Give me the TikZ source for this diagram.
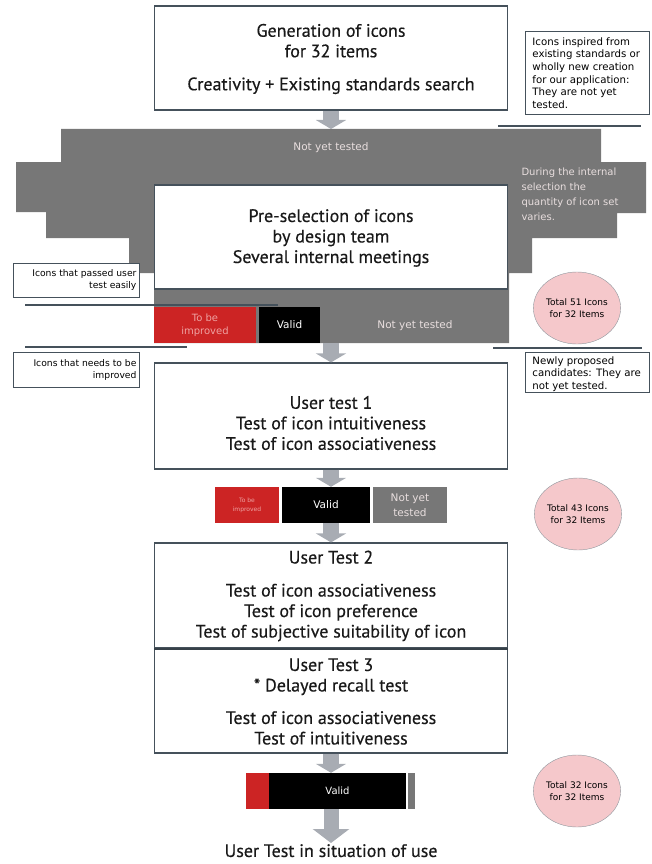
\documentclass[tikz,border=0pt]{standalone}
\usepackage{fontspec}
\setmainfont{PT Sans}
\newfontfamily\stagefont[FakeBold=0.4]{PT Sans}
\newfontfamily\notefont{DejaVu Sans}
\usetikzlibrary{arrows.meta,shapes.geometric}
\definecolor{tabgray}{HTML}{777777}
\definecolor{tabred}{HTML}{CC2424}
\definecolor{arrowgray}{HTML}{A8ACB3}
\definecolor{edgegray}{HTML}{45515B}
\definecolor{pinkfill}{HTML}{F5C8CB}
\definecolor{palered}{HTML}{EEA2A2}
\definecolor{paletext}{HTML}{E8DEDE}
\newcommand{\fsize}[2]{\fontsize{#1}{#2}\selectfont}

\begin{document}
\begin{tikzpicture}
  [x=1pt,y=-1pt,
   stagebox/.style={draw=edgegray,line width=1.2pt,fill=white,minimum width=353pt,inner sep=0pt},
   stagetext/.style={align=center,text=black!90,font=\stagefont\fsize{18}{20.5}},
   notebox/.style={draw=edgegray,line width=0.9pt,fill=white,inner xsep=7pt,inner ysep=2.5pt,anchor=north west,font=\notefont\fsize{10.2}{12.6}},
   leftnote/.style={notebox,inner xsep=3pt,font=\notefont\fsize{9.2}{12}},
   barcell/.style={minimum height=36pt,inner sep=0pt,align=center,font=\notefont\fsize{10.5}{15}},
   total/.style={ellipse,draw=edgegray!60,fill=pinkfill,minimum width=70pt,minimum height=72pt,inner sep=0pt,align=center,font=\notefont\fsize{9}{12.5}},
   fat/.style={draw=arrowgray,line width=16pt,-{Triangle[width=30pt,length=9pt]}},
   divline/.style={draw=edgegray,line width=1.2pt}]
  \useasboundingbox (0,0) rectangle (651,864);

  % selection area, quantity of icons varies
  \fill[tabgray] (61,129) -- (601,129) -- (601,162) -- (646,162) -- (646,213)
    -- (617,213) -- (617,238) -- (532,238) -- (532,273) -- (509,273) -- (509,343)
    -- (154,343) -- (154,273) -- (129,273) -- (129,238) -- (46,238) -- (46,212)
    -- (16,212) -- (16,162) -- (61,162) -- cycle;
  \coordinate (g1) at (331,129);
  \coordinate (g2) at (331,343);

  \node[stagebox,minimum height=104pt] (t1) at (331,58) {};
  \node[stagetext] (t1x) at (331,59) {Generation of icons\\for 32 items\\[12.5pt]Creativity + Existing standards search};

  \node[text=paletext,font=\notefont\fsize{10.5}{13}] (n0) at (331,148) {Not yet tested};
  \node[anchor=north west,align=left,text=paletext,font=\notefont\fsize{10}{15.2}] (n0r) at (518,164)
    {During the internal\\selection the\\quantity of icon set\\varies.};

  \node[stagebox,minimum height=104pt] (t2) at (331,237) {};
  \node[stagetext] (t2x) at (331,238) {Pre-selection of icons\\by design team\\Several internal meetings};

  \node[barcell,fill=tabred,text=palered,minimum width=102pt,font=\notefont\fsize{10}{13}] (r1) at (205,325) {To be\\improved};
  \node[barcell,fill=black,text=white,minimum width=61pt] (v1) at (289.5,325) {Valid};
  \node[text=paletext,font=\notefont\fsize{10.5}{13}] (n1) at (415,326) {Not yet tested};

  \node[stagebox,minimum height=106pt] (t3) at (331,416) {};
  \node[stagetext] (t3x) at (331,423) {User test 1\\Test of icon intuitiveness\\Test of icon associativeness};

  \node[barcell,fill=tabred,text=palered,minimum width=64pt,font=\notefont\fsize{6}{9}] (r2) at (247,505) {To be\\improved};
  \node[barcell,fill=black,text=white,minimum width=88pt] (v2) at (326,505) {Valid};
  \node[barcell,fill=tabgray,text=paletext,minimum width=74pt] (n2) at (410,505) {Not yet\\tested};

  \node[stagebox,minimum height=105pt] (t4) at (331,595.5) {};
  \node[stagetext] (t4x) at (331,596) {User Test 2\\[12.5pt]Test of icon associativeness\\Test of icon preference\\Test of subjective suitability of icon};
  \node[stagebox,minimum height=105pt] (t5) at (331,700.5) {};
  \node[stagetext] (t5x) at (331,701.5) {User Test 3\\* Delayed recall test\\[12pt]Test of icon associativeness\\Test of intuitiveness};
  \draw[edgegray!80!black,line width=2.2pt] (t4.south west) -- (t4.south east);

  \node[barcell,fill=tabred,minimum width=23pt] (r3) at (257.5,791) {};
  \node[barcell,fill=black,text=white,minimum width=137pt,font=\notefont\fsize{10}{12}] (v3) at (337.5,791) {Valid};
  \node[barcell,fill=tabgray,minimum width=7pt] (n3) at (411.5,791) {};

  \node[stagetext,anchor=north,inner sep=0pt] (fin) at (331,844) {User Test in situation of use};

  % side notes
  \node[notebox] (c1) at (525,31) {\parbox[t][78pt][c]{110pt}{\raggedright Icons inspired from\\existing standards or\\wholly new creation\\for our application:\\They are not yet\\tested.}};
  \node[leftnote] (c2) at (13,263) {\parbox[t][29pt][c]{120pt}{\raggedleft Icons that passed user\\test easily}};
  \node[leftnote] (c3) at (13,352) {\parbox[t][30pt][c]{120pt}{\raggedleft Icons that needs to be\\improved}};
  \node[notebox] (c4) at (525,352) {\parbox[t][35pt][c]{110pt}{\vspace*{3pt}\raggedright Newly proposed\\candidates: They are\\not yet tested.}};

  \draw[divline] (498,126) -- (641,126);
  \draw[divline] (25,305) -- (278,305);
  \draw[divline] (25,347) -- (187,347);
  \draw[divline] (493,348) -- (642,348);

  \node[total] (e1) at (577,308) {Total 51 Icons\\for 32 Items};
  \node[total] (e2) at (578,514) {Total 43 Icons\\for 32 Items};
  \node[total] (e3) at (577,791) {Total 32 Icons\\for 32 Items};

  \foreach \from/\to in {t1.south/g1,g2/t3.north,t3.south/t3.south |- v2.north,t3.south |- v2.south/t4.north,t5.south/t5.south |- v3.north}
    \draw[fat] (\from) -- (\to);
  \draw[fat,line width=15pt,-{Triangle[width=36pt,length=14pt]},shorten >=1pt] (t5.south |- v3.south) -- (fin.north);
\end{tikzpicture}
\end{document}
